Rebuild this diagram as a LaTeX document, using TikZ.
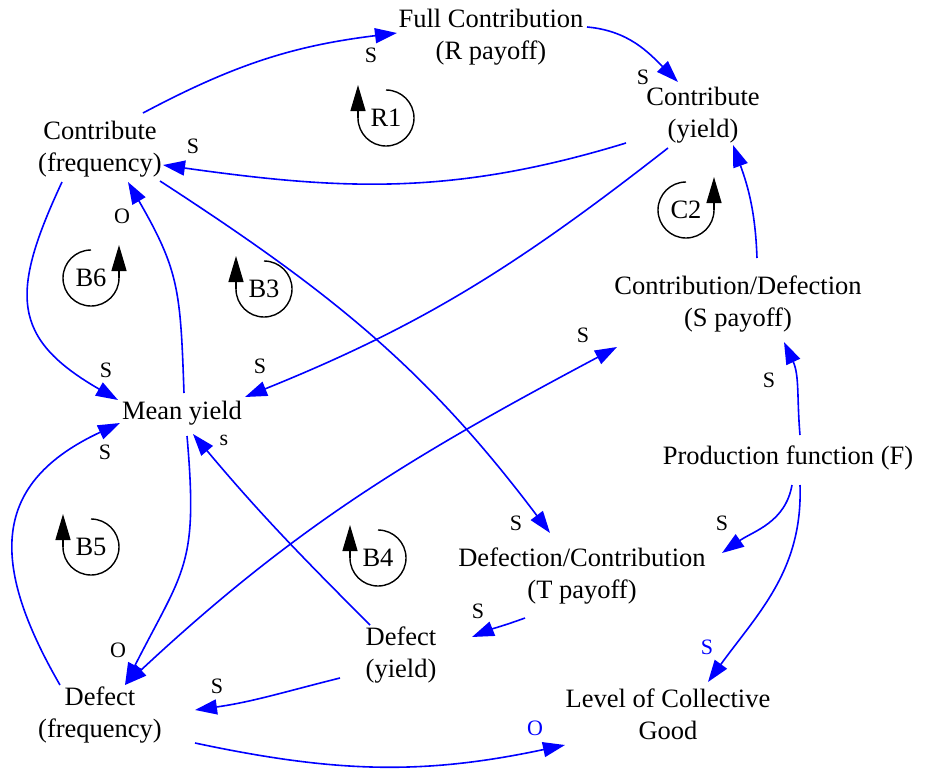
\documentclass[tikz,border=0pt]{standalone}
\usepackage{fontspec}
\setmainfont{Liberation Serif}
\usetikzlibrary{arrows.meta}
% clockwise loop marker: centre, node name, text
\newcommand\loopcw[3]{%
  \draw[loopline] (#1) ++(0,28) arc[start angle=90,end angle=-180,radius=28];
  \draw[looptip] (#1) ++(-28,0) -- ++(0,33);
  \node[loopname] (#2) at (#1) {#3};}
% counter-clockwise loop marker: centre, node name, text
\newcommand\loopccw[3]{%
  \draw[loopline] (#1) ++(0,28) arc[start angle=90,end angle=360,radius=28];
  \draw[looptip] (#1) ++(28,0) -- ++(0,33);
  \node[loopname] (#2) at (#1) {#3};}
\begin{document}
\begin{tikzpicture}[x=1pt,y=1pt,
  var/.style={align=center,font=\fontsize{26.5}{32}\selectfont,inner sep=2pt},
  link/.style={draw=blue,line width=1.6pt,-{Triangle[length=22pt,width=15pt]}},
  pol/.style={font=\fontsize{22}{24}\selectfont,inner sep=0pt},
  bpol/.style={pol,text=blue},
  loopline/.style={line width=1.4pt},
  looptip/.style={line width=1.4pt,-{Triangle[length=26pt,width=15pt]}},
  loopname/.style={font=\fontsize{26.5}{32}\selectfont,inner sep=0pt}
]
\useasboundingbox (0,0) rectangle (938,-769);

% variables
\node[var] (fc) at (491,-37)  {Full Contribution\\(R payoff)};
\node[var] (cy) at (703,-115) {Contribute\\(yield)};
\node[var] (cf) at (100,-149) {Contribute\\(frequency)};
\node[var] (my) at (182,-413) {Mean yield};
\node[var] (cd) at (738,-304) {Contribution/Defection\\(S payoff)};
\node[var] (pf) at (788,-458) {Production function (F)};
\node[var] (dc) at (582,-576) {Defection/Contribution\\(T payoff)};
\node[var] (dy) at (401,-655) {Defect\\(yield)};
\node[var] (df) at (100,-715) {Defect\\(frequency)};
\node[var] (lg) at (668,-714) {Level of Collective\\Good};

% causal links
\draw[link] ([shift={(43,36)}]cf.center) to[out=28,in=187] ([shift={(-94,4)}]fc.center);
\draw[link] ([shift={(96,10)}]fc.center) to[out=-5,in=135] ([shift={(-25,33)}]cy.center);
\draw[link] ([shift={(-77,-28)}]cy.center) to[out=197,in=-8] ([shift={(63,-16)}]cf.center);
\draw[link] ([shift={(-35,-33)}]cy.center) to[out=218,in=22] ([shift={(63,16)}]my.center);
\draw[link] ([shift={(60,-32)}]cf.center) to[out=-33,in=127] ([shift={(-32,43)}]dc.center);
\draw[link] ([shift={(-38,-33)}]cf.center) to[out=245,in=150,looseness=1.4] ([shift={(-64,13)}]my.center);
\draw[link] ([shift={(2,20)}]my.center) to[out=92,in=-60,looseness=1.2] ([shift={(28,-33)}]cf.center);
\draw[link] ([shift={(5,-23)}]my.center) to[out=-85,in=63,looseness=1.3] ([shift={(25,30)}]df.center);
\draw[link] ([shift={(-40,30)}]df.center) to[out=120,in=205,looseness=1.35] ([shift={(-62,-10)}]my.center);
\draw[link] ([shift={(-31,30)}]dy.center) to[out=135,in=-50] ([shift={(11,-21)}]my.center);
\draw[link] ([shift={(-61,-23)}]dy.center) to[out=194,in=8] ([shift={(95,5)}]df.center);
\draw[link] ([shift={(-57,-42)}]dc.center) to[out=200,in=22] ([shift={(71,18)}]dy.center);
\draw[link] ([shift={(4,-27)}]pf.center) to[out=-100,in=35] ([shift={(140,23)}]dc.center);
\draw[link] ([shift={(12,23)}]pf.center) to[out=95,in=-65] ([shift={(46,-38)}]cd.center);
\draw[link] ([shift={(12,-27)}]pf.center) to[out=-88,in=54] ([shift={(40,32)}]lg.center);
\draw[link] ([shift={(95,-28)}]df.center) to[out=-12,in=192] ([shift={(-103,-31)}]lg.center);
\draw[link] ([shift={(19,46)}]cd.center) to[out=92,in=-70] ([shift={(30,-30)}]cy.center);
\draw[link,{Triangle[length=22pt,width=15pt]}-{Triangle[length=22pt,width=15pt]}]
  ([shift={(25,30)}]df.center) to[out=43,in=208] ([shift={(-121,-43)}]cd.center);

% polarities
\node[pol] (p1)  at (371,-55)  {S};
\node[pol] (p2)  at (643,-77)  {S};
\node[pol] (p3)  at (193,-146) {S};
\node[pol] (p4)  at (260,-366) {S};
\node[pol] (p5)  at (516,-523) {S};
\node[pol] (p6)  at (106,-370) {S};
\node[pol] (p7)  at (122,-216) {O};
\node[pol] (p8)  at (118,-650) {O};
\node[pol] (p9)  at (105,-452) {S};
\node[pol] (p10) at (224,-440) {s};
\node[pol] (p11) at (217,-686) {S};
\node[pol] (p12) at (478,-611) {S};
\node[pol] (p13) at (722,-523) {S};
\node[pol] (p14) at (769,-380) {S};
\node[pol] (p15) at (583,-335) {S};
\node[bpol] (p16) at (707,-647) {S};
\node[bpol] (p17) at (535,-728) {O};

% loop markers
\loopcw{386,-118}{r1}{R1}
\loopccw{686,-210}{c2}{C2}
\loopccw{91,-278}{b6}{B6}
\loopcw{264,-289}{b3}{B3}
\loopcw{91,-547}{b5}{B5}
\loopcw{378,-558}{b4}{B4}
\end{tikzpicture}
\end{document}
